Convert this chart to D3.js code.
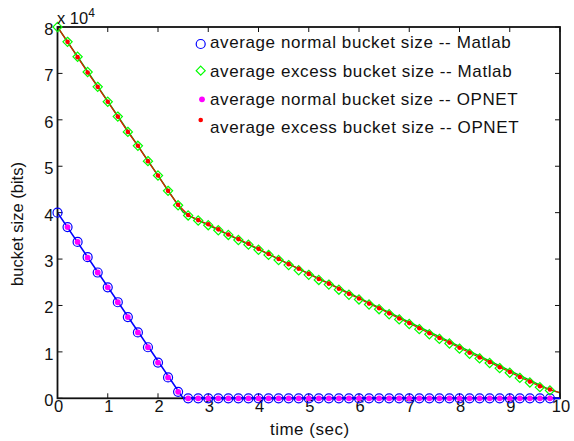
<!DOCTYPE html>
<html><head><meta charset="utf-8">
<script src="https://cdn.jsdelivr.net/npm/d3@7"></script>
<style>body{margin:0;background:#fff}svg{display:block}text{font-family:"Liberation Sans",Arial,sans-serif;fill:#111}</style>
</head><body><svg id="c" width="574" height="441"></svg>
<script>
// time samples (sec)
const times = [0,0.2,0.4,0.6,0.8,1.0,1.2,1.4,1.6,1.8,2.0,2.2,2.4,2.6,2.8,3.0,3.2,3.4,3.6,3.8,4.0,4.2,4.4,4.6,4.8,5.0,5.2,5.4,5.6,5.8,6.0,6.2,6.4,6.6,6.8,7.0,7.2,7.4,7.6,7.8,8.0,8.2,8.4,8.6,8.8,9.0,9.2,9.4,9.6,9.8];
// average normal bucket size (bits) -- Matlab
const normalMatlab = [40000,36900,33700,30400,27100,23900,20700,17500,14200,11000,7700,4500,1400,0,0,0,0,0,0,0,0,0,0,0,0,0,0,0,0,0,0,0,0,0,0,0,0,0,0,0,0,0,0,0,0,0,0,0,0,0];
// average excess bucket size (bits) -- Matlab
const excessMatlab = [80000,76800,73600,70300,67100,63900,60700,57400,54400,51100,48000,44700,41600,39400,38300,37300,36200,35200,34100,33100,32000,30900,29800,28700,27600,26600,25500,24500,23400,22300,21300,20200,19200,18100,17000,16000,14900,13800,12800,11800,10700,9600,8600,7600,6500,5500,4400,3400,2400,1700];
// OPNET samples (start at 0.2 s)
const normalOpnet = [null,36900,33700,30300,27100,23900,20700,17500,14200,11000,7700,4500,1400,0,0,0,0,0,0,0,0,0,0,0,0,0,0,0,0,0,0,0,0,0,0,0,0,0,0,0,0,0,0,0,0,0,0,0,0,0];
const excessOpnet = [null,76800,73500,70200,67100,63900,60700,57400,54400,51100,48000,44700,41700,39500,38400,37500,36400,35300,34300,33300,32200,31100,30000,28900,27900,26800,25700,24700,23600,22500,21500,20400,19400,18300,17200,16200,15100,14000,13000,12000,10900,9800,8800,7800,6700,5700,4600,3600,2600,1900];
// Matlab curves (lines)
const normalLineT = [0,2.5,10];
const normalLineV = [40000,0,0];
const excessLineT = [0,2.4,2.5,2.6,9.8,10];
const excessLineV = [80000,41600,40100,39400,1800,1200];
const xTicks = [0,1,2,3,4,5,6,7,8,9,10];
const yTicks = [0,1,2,3,4,5,6,7,8];
const legendLabels = ["average normal bucket size -- Matlab","average excess bucket size -- Matlab","average normal bucket size -- OPNET","average excess bucket size -- OPNET"];

const svg = d3.select("#c");
const L=57.5, R=560, T=27, B=398.3;
const x = d3.scaleLinear().domain([0,10]).range([L,R]);
const y = d3.scaleLinear().domain([0,80000]).range([B,T]);

// ticks inside
const tk=5;
const g = svg.append("g");
xTicks.forEach(t=>{
  g.append("line").attr("x1",x(t)).attr("x2",x(t)).attr("y1",B).attr("y2",B-tk).attr("stroke","#111");
  g.append("line").attr("x1",x(t)).attr("x2",x(t)).attr("y1",T).attr("y2",T+tk).attr("stroke","#111");
  g.append("text").attr("x",x(t)+1).attr("y",B+14).attr("text-anchor","middle").attr("font-size",16.5).text(t);
});
yTicks.forEach(t=>{
  g.append("line").attr("x1",L).attr("x2",L+tk).attr("y1",y(t*1e4)).attr("y2",y(t*1e4)).attr("stroke","#111");
  g.append("line").attr("x1",R).attr("x2",R-tk).attr("y1",y(t*1e4)).attr("y2",y(t*1e4)).attr("stroke","#111");
  g.append("text").attr("x",L-4).attr("y",y(t*1e4)+8).attr("text-anchor","end").attr("font-size",16.5).text(t);
});

// lines
const ln = d3.line().x(d=>x(d[0])).y(d=>y(d[1]));
svg.append("path").attr("d",ln(normalLineT.map((t,i)=>[t,normalLineV[i]]))).attr("fill","none").attr("stroke","#0000ff").attr("stroke-width",1.6);
svg.append("path").attr("d",ln(excessLineT.map((t,i)=>[t,excessLineV[i]]))).attr("fill","none").attr("stroke","#00c000").attr("stroke-width",1.4);
svg.append("path").attr("d",ln(times.map((t,i)=>[t,excessOpnet[i]===null?excessMatlab[i]:excessOpnet[i]]).concat([[10,1200]]))).attr("fill","none").attr("stroke","#e81000").attr("stroke-width",1.2);

// axes box
svg.append("rect").attr("x",L).attr("y",T).attr("width",R-L).attr("height",B-T).attr("fill","none").attr("stroke","#111").attr("stroke-width",1.8);
// blue overlay at bottom (normal line over axis)
svg.append("path").attr("d",ln([[2.5,0],[10,0]])).attr("fill","none").attr("stroke","#0000ff").attr("stroke-width",1.8);

// markers
const diamond = (cx,cy,r)=>`M${cx},${cy-r}L${cx+r},${cy}L${cx},${cy+r}L${cx-r},${cy}Z`;
times.forEach((t,i)=>{
  svg.append("circle").attr("cx",x(t)).attr("cy",y(normalMatlab[i])).attr("r",4.5).attr("fill","none").attr("stroke","#0000ff").attr("stroke-width",1.2);
  svg.append("path").attr("d",diamond(x(t),y(excessMatlab[i]),4.6)).attr("fill","none").attr("stroke","#00ff00").attr("stroke-width",1.2);
});
times.forEach((t,i)=>{
  if(normalOpnet[i]!==null) svg.append("circle").attr("cx",x(t)).attr("cy",y(normalOpnet[i])).attr("r",2.9).attr("fill","#ff00ff");
  if(excessOpnet[i]!==null) svg.append("circle").attr("cx",x(t)).attr("cy",y(excessOpnet[i])).attr("r",2.3).attr("fill","#ff0000");
});

// exponent label
const ex = svg.append("text").attr("x",57).attr("y",24).attr("font-size",16.5);
ex.append("tspan").text("x 10");
ex.append("tspan").attr("dy",-7).attr("font-size",12).text("4");

// axis labels
svg.append("text").attr("x",(L+R)/2+1).attr("y",435).attr("text-anchor","middle").attr("font-size",17).attr("letter-spacing",0.5).text("time (sec)");
svg.append("text").attr("transform","translate(23,224) rotate(-90)").attr("text-anchor","middle").attr("font-size",16.5).text("bucket size (bits)");

// legend
const rowsY=[42,71,99,127];
legendLabels.forEach((s,i)=>{
  svg.append("text").attr("x",210).attr("y",rowsY[i]+6).attr("font-size",17).attr("letter-spacing",0.6).text(s);
});
svg.append("circle").attr("cx",200.7).attr("cy",44).attr("r",4.5).attr("fill","none").attr("stroke","#0000ff").attr("stroke-width",1.2);
svg.append("path").attr("d",diamond(200.7,70.7,4.5)).attr("fill","none").attr("stroke","#00ff00").attr("stroke-width",1.2);
svg.append("circle").attr("cx",202).attr("cy",99.3).attr("r",2.9).attr("fill","#ff00ff");
svg.append("circle").attr("cx",200.7).attr("cy",120).attr("r",2.3).attr("fill","#ff0000");
</script></body></html>
